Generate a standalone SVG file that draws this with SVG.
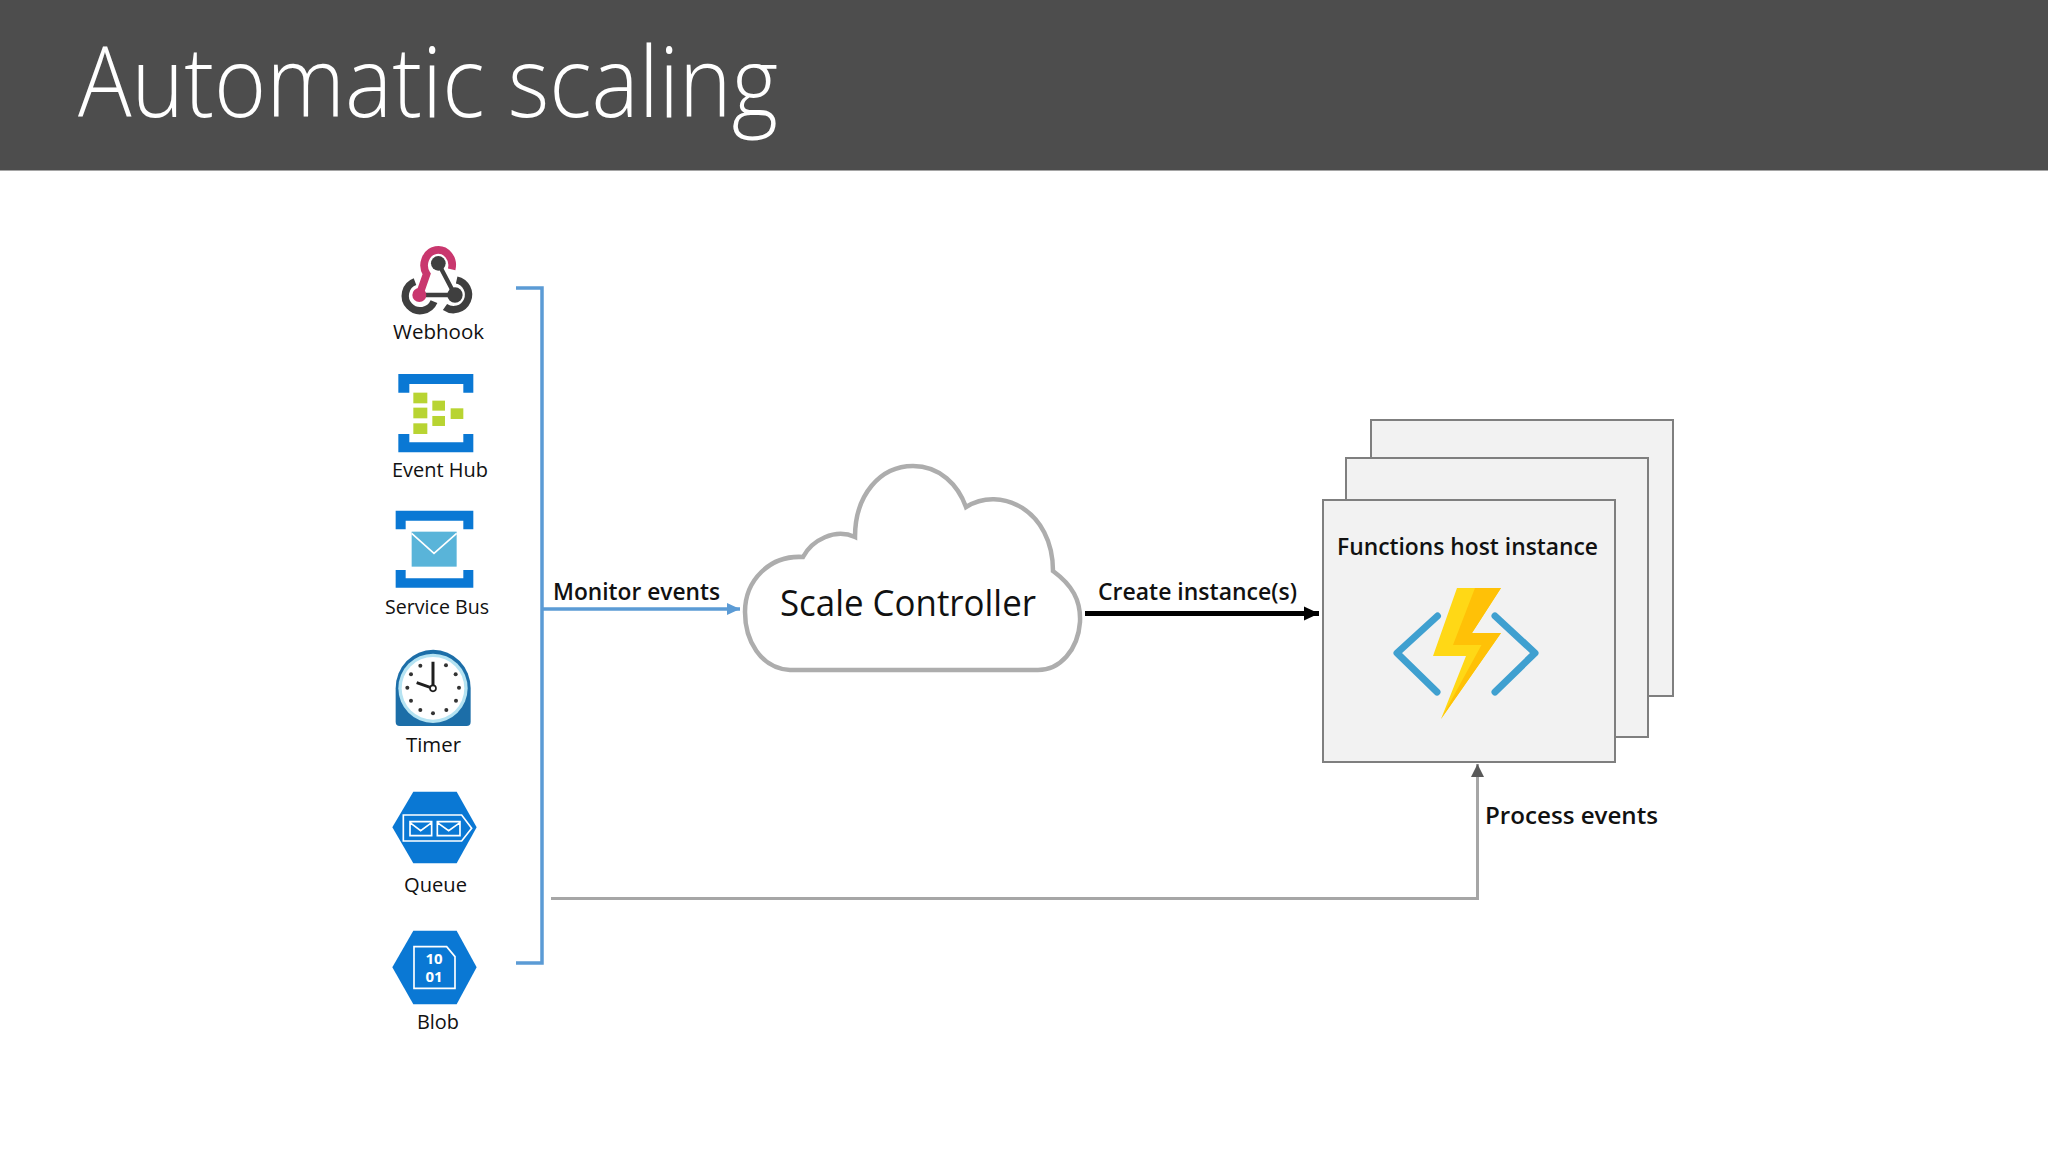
<svg xmlns="http://www.w3.org/2000/svg" width="2048" height="1152" viewBox="0 0 2048 1152">
<defs>
<style>
text{font-family:"Open Sans","Noto Sans","Liberation Sans",sans-serif;fill:#111}
.ic{font-size:20px}
.lb{font-size:23px;font-weight:600}
.card{fill:#f2f2f2;stroke:#7f7f7f;stroke-width:2}
.az{fill:#0a78d4}
.lime{fill:#b8d432}
.w{fill:none;stroke:#fff;stroke-width:5}
</style>
<marker id="mBlue" markerUnits="userSpaceOnUse" markerWidth="14" markerHeight="14" refX="13" refY="7" orient="auto"><path d="M0 1L13 7L0 13Z" fill="#5b9bd5"/></marker>
<marker id="mBlack" markerUnits="userSpaceOnUse" markerWidth="16" markerHeight="16" refX="15" refY="8" orient="auto"><path d="M0 1L15 8L0 15Z" fill="#000"/></marker>
<marker id="mGrey" markerUnits="userSpaceOnUse" markerWidth="14" markerHeight="14" refX="13" refY="7" orient="auto"><path d="M0 0.5L13 7L0 13.5Z" fill="#595959"/></marker>
</defs>
<rect width="2048" height="1152" fill="#fff"/>
<g id="header">
<rect width="2048" height="170.500" fill="#4d4d4d"/>
<text x="78" y="117" font-size="98" font-weight="300" textLength="700" lengthAdjust="spacingAndGlyphs" style="fill:#fff">Automatic scaling</text>
</g>
<g id="connectors" fill="none">
<path d="M516 288H542V963H516" stroke="#5b9bd5" stroke-width="3.500"/>
<path d="M542 609H740" stroke="#5b9bd5" stroke-width="3.500" marker-end="url(#mBlue)"/>
<path d="M1085 613.500H1319" stroke="#000" stroke-width="5" marker-end="url(#mBlack)"/>
<path d="M551 898.500H1477.500V764" stroke="#a6a6a6" stroke-width="3" marker-end="url(#mGrey)"/>
</g>
<g id="labels">
<text class="lb" x="553" y="600" textLength="167" lengthAdjust="spacingAndGlyphs">Monitor events</text>
<text class="lb" x="1098" y="600" textLength="199" lengthAdjust="spacingAndGlyphs">Create instance(s)</text>
<text class="lb" x="1485" y="824" textLength="173" lengthAdjust="spacingAndGlyphs">Process events</text>
</g>
<g id="webhook">
<g transform="translate(360 230) scale(.3333)" fill="none">
<path d="M165 155A45 45 0 1 0 222 215" stroke="#3f3f3f" stroke-width="22"/>
<path d="M290 150A45 45 0 1 1 255 231" stroke="#3f3f3f" stroke-width="22"/>
<path d="M235 100L285 195L178 195" stroke="#3f3f3f" stroke-width="13"/>
<circle cx="235" cy="100" r="22" fill="#3f3f3f"/>
<circle cx="285" cy="195" r="23" fill="#3f3f3f"/>
<path d="M275 118A42 46 0 1 0 200 132L178 195" stroke="#c9376e" stroke-width="23"/>
<circle cx="178" cy="195" r="21" fill="#c9376e"/>
</g>
<text class="ic" x="393" y="339" textLength="91" lengthAdjust="spacingAndGlyphs">Webhook</text>
</g>
<g id="event-hub">
<g transform="translate(360 230) scale(.3333)">
<path class="az" d="M115 432H340V488H310V462H148V488H115ZM115 667H340V612H310V637H148V612H115Z"/>
<rect class="lime" x="160" y="488" width="42" height="32"/>
<rect class="lime" x="160" y="533" width="42" height="32"/>
<rect class="lime" x="160" y="580" width="42" height="32"/>
<rect class="lime" x="217" y="512" width="38" height="30"/>
<rect class="lime" x="217" y="558" width="38" height="30"/>
<rect class="lime" x="272" y="535" width="38" height="32"/>
</g>
<text class="ic" x="392" y="477" textLength="96" lengthAdjust="spacingAndGlyphs">Event Hub</text>
</g>
<g id="service-bus">
<g transform="translate(360 490) scale(.3333)">
<path class="az" d="M107 62H340V118H310V92H137V118H107ZM107 293H340V240H310V265H137V240H107Z"/>
<rect x="155" y="125" width="135" height="105" fill="#59b4d9"/>
<path d="M155 130L222 190L290 130" class="w"/>
</g>
<text class="ic" x="385" y="614" textLength="104" lengthAdjust="spacingAndGlyphs">Service Bus</text>
</g>
<g id="timer">
<g transform="translate(360 490) scale(.3333)">
<path d="M107 595A112 115 0 0 1 332 595V696Q332 708 320 708H119Q107 708 107 696Z" fill="#1c6ea8"/>
<circle cx="219" cy="595" r="104" fill="#b5e3f2"/>
<circle cx="219" cy="595" r="94" fill="#fff"/>
<g fill="#333">
<circle cx="219" cy="670" r="6"/><circle cx="259" cy="660" r="6"/><circle cx="288" cy="632" r="6"/><circle cx="297" cy="593" r="6"/><circle cx="287" cy="553" r="6"/><circle cx="258" cy="526" r="6"/><circle cx="181" cy="527" r="6"/><circle cx="153" cy="553" r="6"/><circle cx="142" cy="593" r="6"/><circle cx="153" cy="632" r="6"/><circle cx="181" cy="660" r="6"/>
</g>
<path d="M219 595V515M219 595L170 578" stroke="#1f1f1f" stroke-width="9" fill="none"/>
<circle cx="219" cy="595" r="9" fill="#fff" stroke="#1f1f1f" stroke-width="5"/>
</g>
<text class="ic" x="406" y="752" textLength="55" lengthAdjust="spacingAndGlyphs">Timer</text>
</g>
<g id="queue">
<g transform="translate(360 770) scale(.3333)">
<path class="az" d="M160 65H290L350 172L290 280H160L97 172Z"/>
<path class="w" d="M130 135H305L335 175L305 213H130Z"/>
<path class="w" d="M150 155H215V197H150ZM150 158L182 182L215 158M232 155H300V197H232ZM232 158L266 182L300 158"/>
</g>
<text class="ic" x="404" y="892" textLength="63" lengthAdjust="spacingAndGlyphs">Queue</text>
</g>
<g id="blob">
<g transform="translate(360 770) scale(.3333)">
<path class="az" d="M160 482H290L350 592L290 703H160L97 592Z"/>
<path class="w" d="M162 530H260L285 560V655H162Z"/>
</g>
<text x="434" y="964" text-anchor="middle" font-size="15" font-weight="700" style="fill:#fff">10</text>
<text x="434" y="982" text-anchor="middle" font-size="15" font-weight="700" style="fill:#fff">01</text>
<text class="ic" x="417" y="1029" textLength="42" lengthAdjust="spacingAndGlyphs">Blob</text>
</g>
<g id="scale-controller">
<path d="M790 670C760 668 745 640 745 612C745 580 770 555 803 557C812 540 835 528 855 537C855 495 880 466 913 466C940 466 958 485 966 507C1000 485 1053 510 1053 571C1072 585 1081 600 1080 622C1078 650 1060 670 1038 670Z" fill="#fff" stroke="#adadad" stroke-width="4.500"/>
<text x="780" y="616" font-size="37" textLength="256" lengthAdjust="spacingAndGlyphs">Scale Controller</text>
</g>
<g id="functions-host">
<rect class="card" x="1371" y="420" width="302" height="276"/>
<rect class="card" x="1346" y="458" width="302" height="279"/>
<rect class="card" x="1323" y="500" width="292" height="262"/>
<text class="lb" x="1337" y="555" textLength="261" lengthAdjust="spacingAndGlyphs">Functions host instance</text>
<path d="M1437.500 616L1397 653L1437 692M1495 616L1535 653L1495 692" fill="none" stroke="#3fa0d0" stroke-width="7" stroke-linecap="round" stroke-linejoin="round"/>
<path d="M1457 588H1501L1472 633H1501L1441 719L1466 656H1433Z" fill="#ffd816"/>
<path d="M1475 588H1501L1472 633H1501L1441 719L1481.500 645H1453Z" fill="#ffc107"/>
</g>
</svg>
